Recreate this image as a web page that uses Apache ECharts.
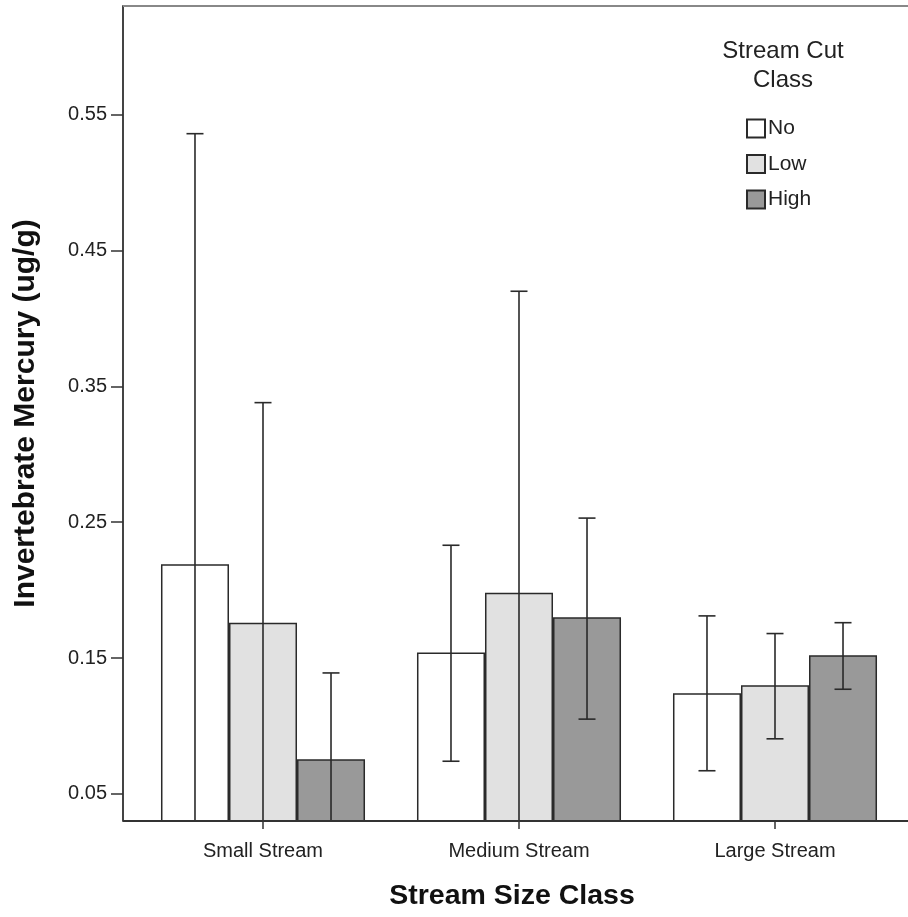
<!DOCTYPE html>
<html>
<head>
<meta charset="utf-8">
<script src="https://cdn.jsdelivr.net/npm/echarts@6/dist/echarts.min.js"></script>
<style>
html,body{margin:0;padding:0;background:#fff;}
#chart{width:908px;height:917px;}
</style>
</head>
<body>
<div id="chart"></div>
<script>
// ---- data ----
var categories = ['Small Stream', 'Medium Stream', 'Large Stream'];
var seriesNames = ['No', 'Low', 'High'];
var noMean   = [0.219, 0.154, 0.124];
var lowMean  = [0.176, 0.198, 0.130];
var highMean = [0.0755, 0.180, 0.152];
var noLower   = [-0.098, 0.074, 0.067];
var noUpper   = [0.536, 0.233, 0.181];
var lowLower  = [0.014, -0.024, 0.0905];
var lowUpper  = [0.338, 0.420, 0.168];
var highLower = [0.012, 0.105, 0.127];
var highUpper = [0.139, 0.253, 0.176];
var yTicks = [0.05, 0.15, 0.25, 0.35, 0.45, 0.55];
var yMin = 0.03, yMax = 0.63;

// ---- layout ----
var W = 908, H = 917;
var gridLeft = 135, gridRight = 5, gridTop = 6, gridBottom = 96;
var axisX = 123;
var axisY = H - gridBottom;
var catGap = 0.203;

var means = [noMean, lowMean, highMean];
var lows = [noLower, lowLower, highLower];
var highs = [noUpper, lowUpper, highUpper];
var fills = ['#ffffff', '#e1e1e1', '#999999'];

var chart = echarts.init(document.getElementById('chart'), null, {renderer: 'canvas'});

var series = [];
for (var s = 0; s < 3; s++) {
  series.push({
    name: seriesNames[s],
    type: 'bar',
    data: means[s],
    barGap: '0%',
    barCategoryGap: (catGap * 100) + '%',
    itemStyle: {color: fills[s], borderColor: '#2a2a2a', borderWidth: 1.5},
    emphasis: {disabled: true},
    z: 2
  });
}
for (var s2 = 0; s2 < 3; s2++) {
  (function (si) {
    var errData = categories.map(function (c, i) { return [i, lows[si][i], highs[si][i]]; });
    series.push({
      type: 'custom',
      name: 'err' + si,
      data: errData,
      z: 5,
      silent: true,
      renderItem: function (params, api) {
        var ci = api.value(0);
        var lo = api.coord([ci, api.value(1)]);
        var hi = api.coord([ci, api.value(2)]);
        var band = api.size([1, 0])[0];
        var bw = band * (1 - catGap) / 3;
        var x = lo[0] + (si - 1) * bw;
        var cs = params.coordSys;
        var bottom = cs.y + cs.height;
        var top = cs.y;
        var yLo = Math.min(lo[1], bottom);
        var yHi = Math.max(hi[1], top);
        var half = 8.5;
        var style = {stroke: '#2a2a2a', lineWidth: 1.6};
        var children = [
          {type: 'line', shape: {x1: x, y1: yLo, x2: x, y2: yHi}, style: style}
        ];
        if (hi[1] >= top) children.push({type: 'line', shape: {x1: x - half, y1: hi[1], x2: x + half, y2: hi[1]}, style: style});
        if (lo[1] <= bottom) children.push({type: 'line', shape: {x1: x - half, y1: lo[1], x2: x + half, y2: lo[1]}, style: style});
        return {type: 'group', children: children};
      }
    });
  })(s2);
}

var option = {
  animation: false,
  backgroundColor: '#ffffff',
  textStyle: {fontFamily: 'Liberation Sans, Arial, sans-serif'},
  title: {
    text: 'Stream Cut\nClass',
    left: 778,
    top: 32,
    textAlign: 'center',
    textStyle: {fontSize: 24, fontWeight: 'normal', color: '#222', lineHeight: 29, fontFamily: 'Liberation Sans, Arial, sans-serif'}
  },
  legend: {
    data: seriesNames,
    orient: 'vertical',
    left: 746,
    top: 118,
    padding: 0,
    itemWidth: 18,
    itemHeight: 18,
    itemGap: 14.5,
    icon: 'rect',
    selectedMode: false,
    textStyle: {fontSize: 21, color: '#222', padding: [0, 0, 0, -2]}
  },
  grid: {left: gridLeft, right: gridRight, top: gridTop, bottom: gridBottom, containLabel: false},
  xAxis: {
    type: 'category',
    data: categories,
    name: 'Stream Size Class',
    nameLocation: 'middle',
    nameGap: 61,
    nameTextStyle: {fontSize: 28.5, fontWeight: 'bold', color: '#111', padding: [0, 14, 0, 0]},
    axisLine: {show: false},
    axisTick: {show: true, alignWithLabel: true, length: 8, lineStyle: {color: '#333', width: 1.5}},
    axisLabel: {fontSize: 20, color: '#222', margin: 20}
  },
  yAxis: {
    type: 'value',
    min: yMin,
    max: yMax,
    offset: gridLeft - axisX,
    name: 'Invertebrate Mercury (ug/g)',
    nameLocation: 'middle',
    nameGap: 82,
    nameTextStyle: {fontSize: 30, fontWeight: 'bold', color: '#111'},
    splitLine: {show: false},
    axisLine: {show: true, lineStyle: {color: '#444', width: 2}},
    axisTick: {show: true, length: 12, customValues: yTicks, lineStyle: {color: '#333', width: 1.5}},
    axisLabel: {fontSize: 20, color: '#222', margin: 16, customValues: yTicks,
      formatter: function (v) { return v.toFixed(2); }}
  },
  graphic: [
    {type: 'line', shape: {x1: axisX, y1: axisY, x2: W, y2: axisY}, style: {stroke: '#333', lineWidth: 2}, z: 10, silent: true},
    {type: 'line', shape: {x1: axisX, y1: gridTop, x2: W, y2: gridTop}, style: {stroke: '#888', lineWidth: 2}, z: 10, silent: true}
  ],
  series: series
};
chart.setOption(option);
</script>
</body>
</html>
